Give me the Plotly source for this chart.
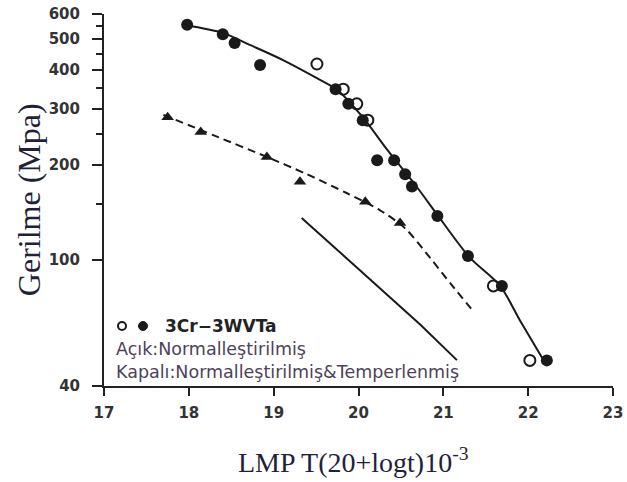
import plotly.graph_objects as go

# --- data ---
filled_x = [17.98, 18.40, 18.54, 18.84, 19.73, 19.88, 20.05, 20.22, 20.42, 20.55, 20.63, 20.93, 21.29, 21.69, 22.22]
filled_y = [555, 518, 486, 414, 347, 312, 277, 207, 207, 187, 171, 138, 103, 82.9, 48.2]
open_x = [19.51, 19.82, 19.98, 20.11, 21.59, 22.02]
open_y = [417, 347, 312, 277, 82.9, 48.2]
t23_x = [17.75, 18.14, 18.92, 19.31, 20.08, 20.49]
t23_y = [283, 254, 212, 177, 153, 131]
fit_x = [17.95, 18.40, 18.72, 19.11, 19.51, 19.75, 20.05, 20.34, 20.69, 20.93, 21.31, 21.67, 21.90, 22.18]
fit_y = [554, 523, 479, 429, 376, 345, 283, 223, 170, 139, 102, 82.9, 64.7, 48.3]
t23_fit_x = [17.70, 18.31, 18.92, 19.39, 19.86, 20.25, 20.55, 20.84, 21.10, 21.36]
t23_fit_y = [288, 247, 212, 187, 163, 144, 126, 102, 83.4, 68.6]
t22_x = [19.33, 20.73, 21.16]
t22_y = [136, 62.5, 48.3]

x_ticks = [17, 18, 19, 20, 21, 22, 23]
y_ticks = [40, 100, 200, 300, 400, 500, 600]
y_minor = [150, 250, 350, 450, 550]

INK = "#1a1a1a"
fig = go.Figure()

fig.add_trace(go.Scatter(x=fit_x, y=fit_y, mode="lines", line=dict(color=INK, width=2, shape="spline", smoothing=0.8), hoverinfo="skip"))
fig.add_trace(go.Scatter(x=t23_fit_x, y=t23_fit_y, mode="lines", line=dict(color=INK, width=2, dash="8px,5px", shape="spline", smoothing=0.8), hoverinfo="skip"))
fig.add_trace(go.Scatter(x=t22_x, y=t22_y, mode="lines", line=dict(color=INK, width=2, shape="linear"), hoverinfo="skip"))
fig.add_trace(go.Scatter(x=open_x, y=open_y, mode="markers", marker=dict(symbol="circle-open", size=11, color=INK, line=dict(width=2, color=INK))))
fig.add_trace(go.Scatter(x=filled_x, y=filled_y, mode="markers", marker=dict(symbol="circle", size=12, color=INK, line=dict(width=0))))
fig.add_trace(go.Scatter(x=t23_x, y=t23_y, mode="markers", marker=dict(symbol="triangle-up", size=11, color=INK, line=dict(width=0))))

tickfont = dict(family="DejaVu Sans", size=15, color="#333333", weight="bold")

fig.update_layout(
    width=627, height=482,
    margin=dict(l=104, r=14, t=14, b=96, autoexpand=False),
    paper_bgcolor="white", plot_bgcolor="white",
    showlegend=False,
    xaxis=dict(range=[17, 23], tickmode="array", tickvals=x_ticks, ticktext=[str(v) for v in x_ticks],
               showline=True, linecolor="#222222", linewidth=2, ticks="outside", ticklen=8, tickwidth=2,
               tickcolor="#222222", showgrid=False, zeroline=False, tickfont=tickfont, ticklabelstandoff=4,
               automargin=False),
    yaxis=dict(type="log", range=[1.60206, 2.778151], tickmode="array", tickvals=y_ticks,
               ticktext=[str(v) for v in y_ticks],
               showline=True, linecolor="#222222", linewidth=2, ticks="outside", ticklen=10, tickwidth=2,
               tickcolor="#222222", showgrid=False, zeroline=False, tickfont=tickfont, ticklabelstandoff=9,
               automargin=False,
               minor=dict(tickmode="array", tickvals=y_minor, ticks="outside", ticklen=6, tickwidth=2,
                          tickcolor="#222222", showgrid=False)),
)

TITLE = "#231f3a"
NOTE = "#4d4258"
ann = [
    dict(text="Gerilme (Mpa)", x=-0.147, y=0.5, xref="paper", yref="paper", textangle=-90,
         showarrow=False, font=dict(family="Liberation Serif", size=32, color=TITLE), xanchor="center", yanchor="middle"),
    dict(text="LMP T(20+logt)10<sup>-3</sup>", x=0.49, y=-0.199, xref="paper", yref="paper",
         showarrow=False, font=dict(family="Liberation Serif", size=28, color=TITLE), xanchor="center", yanchor="middle"),
    dict(text="T23", x=18.72, y=296, showarrow=False, font=dict(family="DejaVu Sans", size=15, color="#333333", weight="bold")),
    dict(text="T22", x=20.25, y=88, showarrow=False, font=dict(family="DejaVu Sans", size=15, color="#333333", weight="bold")),
    dict(text="3Cr\u22123WVTa", x=0.116, y=0.161, xref="paper", yref="paper", xanchor="left", yanchor="middle",
         showarrow=False, font=dict(family="DejaVu Sans", size=17, color="#222222", weight="bold")),
    dict(text="Açık:Normalleştirilmiş", x=0.0196, y=0.0995, xref="paper", yref="paper", xanchor="left", yanchor="middle",
         showarrow=False, font=dict(family="DejaVu Sans", size=17.5, color=NOTE)),
    dict(text="Kapalı:Normalleştirilmiş&Temperlenmiş", x=0.0196, y=0.0376, xref="paper", yref="paper", xanchor="left", yanchor="middle",
         showarrow=False, font=dict(family="DejaVu Sans", size=17.5, color=NOTE)),
]
fig.update_layout(annotations=ann)

# legend symbols
shapes = [
    dict(type="circle", xref="paper", yref="paper", xsizemode="pixel", ysizemode="pixel",
         xanchor=(122 - 104) / 509, yanchor=(386 - 326) / 372, x0=-4, x1=4, y0=-4, y1=4,
         line=dict(color=INK, width=2), fillcolor="white"),
    dict(type="circle", xref="paper", yref="paper", xsizemode="pixel", ysizemode="pixel",
         xanchor=(143 - 104) / 509, yanchor=(386 - 326) / 372, x0=-4.5, x1=4.5, y0=-4.5, y1=4.5,
         line=dict(color=INK, width=1), fillcolor=INK),
]
fig.update_layout(shapes=shapes)

fig.write_html("out.html", config={"displayModeBar": False},
               post_script="document.body.style.margin='0';document.body.style.overflow='hidden';")
